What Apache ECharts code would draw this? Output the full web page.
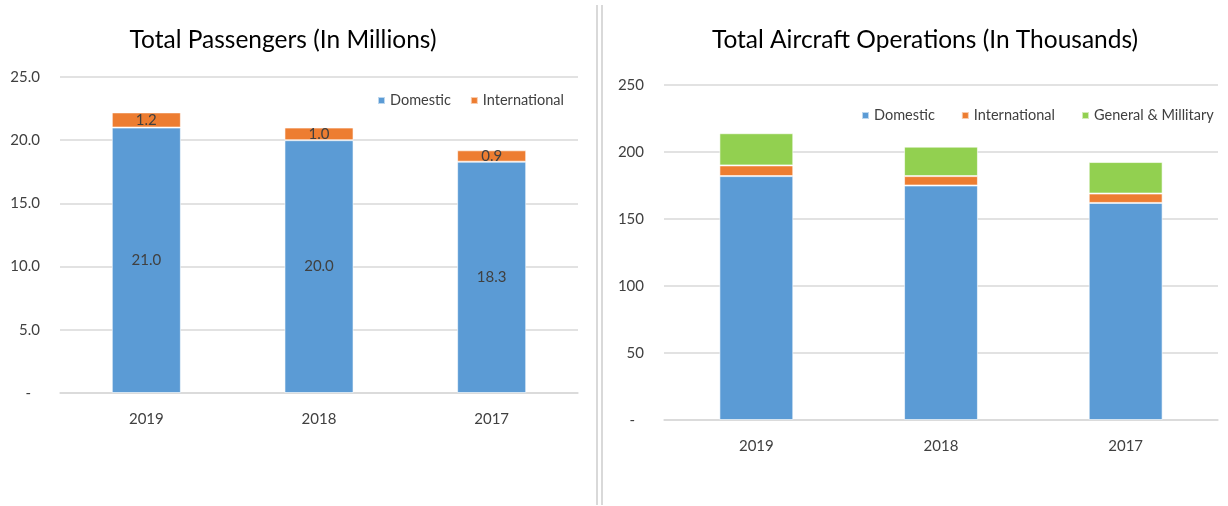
<!DOCTYPE html>
<html>
<head>
<meta charset="utf-8">
<script src="https://cdn.jsdelivr.net/npm/echarts@6/dist/echarts.min.js"></script>
<style>
html,body{margin:0;padding:0;background:#fff;}
#c{width:1228px;height:506px;}
</style>
</head>
<body>
<div id="c"></div>
<script>
const years = ['2019', '2018', '2017'];
const paxDomestic = [21.0, 20.0, 18.3];
const paxIntl = [1.2, 1.0, 0.9];
const opsDomestic = [182, 175, 162];
const opsIntl = [8, 7, 7];
const opsGenMil = [24, 22, 23.5];
const paxTicks = { min: 0, max: 25, interval: 5 };
const opsTicks = { min: 0, max: 250, interval: 50 };

const FONT = 'Lato';
const TXT = '#404040';
const GRID = '#d9d9d9';
const BLUE = '#5B9BD5', ORANGE = '#ED7D31', GREEN = '#92D050';

const chart = echarts.init(document.getElementById('c'), null, { renderer: 'canvas' });

function yAxis(idx, ticks, fmt) {
  return {
    type: 'value', gridIndex: idx, min: ticks.min, max: ticks.max, interval: ticks.interval,
    axisLine: { show: false }, axisTick: { show: false },
    splitLine: { lineStyle: { color: GRID, width: 1.5 } },
    axisLabel: {
      margin: 20, color: TXT, fontFamily: FONT, fontSize: 15,
      formatter: v => v === 0 ? '{d|-}' : fmt(v),
      rich: { d: { padding: [0, 9, 0, 0], color: TXT, fontFamily: FONT, fontSize: 15 } }
    }
  };
}
function xAxis(idx) {
  return {
    type: 'category', gridIndex: idx, data: years,
    axisLine: { lineStyle: { color: GRID, width: 1.5 } }, axisTick: { show: false },
    axisLabel: { margin: 19, color: TXT, fontFamily: FONT, fontSize: 15 }
  };
}
function bar(name, data, color, xi, label) {
  return {
    name, type: 'bar', stack: 's' + xi, xAxisIndex: xi, yAxisIndex: xi, data,
    barWidth: '40%',
    itemStyle: { color, borderColor: 'rgba(255,255,255,0.6)', borderWidth: 1 },
    label: label ? { show: true, position: 'inside', color: TXT, fontFamily: FONT, fontSize: 15,
      formatter: p => p.value.toFixed(1) } : { show: false },
    emphasis: { disabled: true }
  };
}
const legendText = { color: TXT, fontFamily: FONT, fontSize: 14.5 };

chart.setOption({
  animation: false,
  textStyle: { fontFamily: FONT },
  title: [
    { text: 'Total Passengers (In Millions)', left: 278, top: 23, textAlign: 'center',
      textStyle: { fontFamily: FONT, fontSize: 24.5, fontWeight: 'normal', color: '#000' } },
    { text: 'Total Aircraft Operations (In Thousands)', left: 920, top: 23, textAlign: 'center',
      textStyle: { fontFamily: FONT, fontSize: 24.5, fontWeight: 'normal', color: '#000' } }
  ],
  legend: [
    { data: ['Domestic', 'International'], left: 372, top: 88, itemWidth: 7, itemHeight: 7,
      itemGap: 19, icon: 'rect', textStyle: legendText, selectedMode: false },
    { data: ['Domestic', 'International', 'General & Millitary'], left: 856, top: 103, width: 372,
      itemWidth: 7, itemHeight: 7, itemGap: 26, icon: 'rect', textStyle: legendText, selectedMode: false }
  ],
  grid: [
    { left: 60, right: 650, top: 77, bottom: 113 },
    { left: 664, right: 10, top: 85, bottom: 86 }
  ],
  xAxis: [xAxis(0), xAxis(1)],
  yAxis: [yAxis(0, paxTicks, v => v.toFixed(1)), yAxis(1, opsTicks, v => String(v))],
  series: [
    bar('Domestic', paxDomestic, BLUE, 0, true),
    bar('International', paxIntl, ORANGE, 0, true),
    bar('Domestic', opsDomestic, BLUE, 1, false),
    bar('International', opsIntl, ORANGE, 1, false),
    bar('General & Millitary', opsGenMil, GREEN, 1, false)
  ],
  graphic: [
    { type: 'line', shape: { x1: 597, y1: 5, x2: 597, y2: 505 }, style: { stroke: GRID, lineWidth: 2 } },
    { type: 'line', shape: { x1: 602, y1: 5, x2: 602, y2: 505 }, style: { stroke: GRID, lineWidth: 2 } }
  ]
});
</script>
</body>
</html>
